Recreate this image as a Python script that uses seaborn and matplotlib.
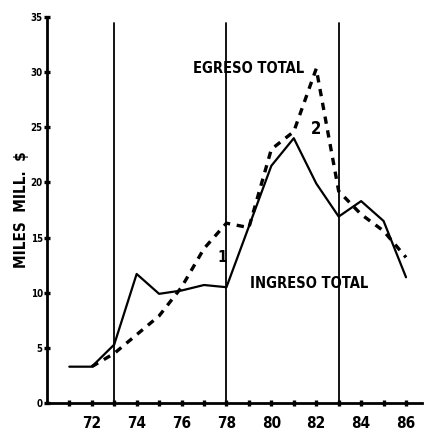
import matplotlib
matplotlib.use("Agg")
import matplotlib.pyplot as plt
import seaborn as sns
import pandas as pd

# datos (miles de millones $)
anios_ing = [1971, 1972, 1973, 1974, 1975, 1976, 1977, 1978, 1979, 1980, 1981, 1982, 1983, 1984, 1985, 1986]
ingreso = [3.3, 3.3, 5.3, 11.7, 9.9, 10.2, 10.7, 10.5, 16.0, 21.5, 24.0, 19.9, 16.9, 18.3, 16.5, 11.4]

anios_egr = [1972, 1973, 1974, 1975, 1976, 1977, 1978, 1979, 1980, 1981, 1982, 1983, 1984, 1985, 1986]
egreso = [3.3, 4.5, 6.2, 7.9, 10.5, 14.0, 16.3, 15.9, 23.0, 24.6, 30.3, 19.2, 17.1, 15.6, 13.2]

cortes = [1973, 1978, 1983]
x_labels = [72, 74, 76, 78, 80, 82, 84, 86]
y_ticks = [0, 5, 10, 15, 20, 25, 30, 35]

sns.set_style("white")
plt.rcParams['font.family'] = ['DejaVu Sans']
plt.rcParams['font.stretch'] = 'condensed'
plt.rcParams['font.weight'] = 'bold'
plt.rcParams['text.color'] = 'black'
plt.rcParams['xtick.color'] = 'black'
plt.rcParams['ytick.color'] = 'black'
plt.rcParams['axes.labelcolor'] = 'black'

df_ing = pd.DataFrame({"anio": anios_ing, "valor": ingreso})
df_egr = pd.DataFrame({"anio": anios_egr, "valor": egreso})

fig = plt.figure(figsize=(4.26, 4.42), dpi=100)
ax = fig.add_axes([0.110, 0.088, 0.880, 0.874])

sns.lineplot(data=df_ing, x="anio", y="valor", color="black", linewidth=1.6, ax=ax)
sns.lineplot(data=df_egr, x="anio", y="valor", color="black", linewidth=2.4,
             linestyle=(0, (2.2, 2.0)), ax=ax)

for c in cortes:
    ax.axvline(c, ymin=0, ymax=0.985, color="black", linewidth=1.3)

ax.set_xlim(1970, 1986.7)
ax.set_ylim(0, 35)

ax.set_xticks([1900 + v for v in x_labels])
ax.set_xticklabels([str(v) for v in x_labels], fontsize=11, fontweight='bold')
ax.set_xticks([1900 + v for v in range(71, 87, 2)], minor=True)
ax.set_yticks(y_ticks)
ax.set_yticklabels([str(v) for v in y_ticks], fontsize=7, fontweight='bold')
ax.tick_params(axis='both', which='both', bottom=True, left=True, direction='inout',
               length=4, width=2.4, color='black')
ax.tick_params(axis='x', pad=7)
ax.tick_params(axis='y', pad=1)

ax.set_xlabel("")
ax.set_ylabel("MILES  MILL.  $", fontsize=11, fontweight='bold', labelpad=1)

ax.text(1979.0, 30.3, "EGRESO TOTAL", fontsize=10.5, fontweight='bold', ha='center', va='center')
ax.text(1981.7, 10.8, "INGRESO TOTAL", fontsize=10.5, fontweight='bold', ha='center', va='center')
ax.text(1977.8, 13.2, "1", fontsize=11, fontweight='bold', ha='center', va='center')
ax.text(1982.0, 24.8, "2", fontsize=12, fontweight='bold', ha='center', va='center')

sns.despine(ax=ax)
for s in ['left', 'bottom']:
    ax.spines[s].set_linewidth(2)
    ax.spines[s].set_color('black')

fig.savefig("out.png", dpi=100)
